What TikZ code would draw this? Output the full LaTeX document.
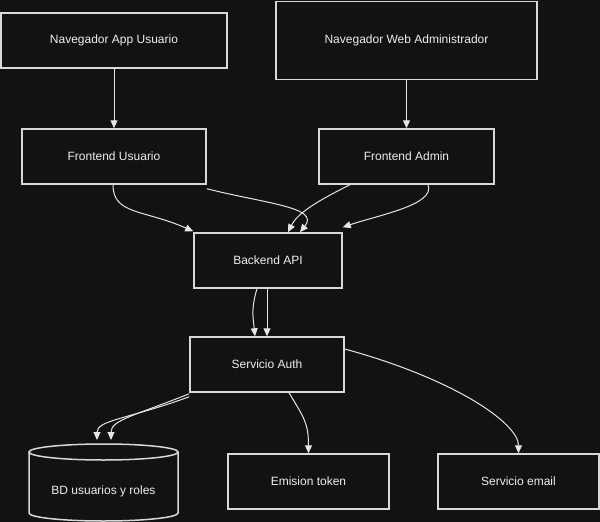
\documentclass[tikz,border=0pt]{standalone}
\usepackage{fontspec}
\setmainfont{Liberation Sans}
\usetikzlibrary{arrows.meta}
\definecolor{bgc}{HTML}{121212}
\definecolor{boxline}{HTML}{D8D8D8}
\definecolor{conn}{HTML}{E6E6E6}
\definecolor{txt}{HTML}{EEEEEE}
\begin{document}
\begin{tikzpicture}[x=1pt,y=-1pt,
  box/.style={draw=boxline, fill=bgc, line width=1.5pt, text=txt,
    font=\fontsize{12}{14}\selectfont, inner sep=0pt, anchor=center},
  arr/.style={draw=conn, line width=1pt, -{Triangle[length=8pt,width=7pt,fill=conn]}}]
\useasboundingbox (0,0) rectangle (600,522);
\fill[bgc] (0,0) rectangle (600,522);

\node[box, minimum width=226pt, minimum height=55pt] (navapp) at (114,40.5) {Navegador App Usuario};
\node[box, minimum width=261pt, minimum height=78pt] (navweb) at (406.5,40.5) {Navegador Web Administrador};
\node[box, minimum width=184pt, minimum height=55pt] (feu) at (114,156.5) {Frontend Usuario};
\node[box, minimum width=175pt, minimum height=55pt] (fea) at (406.5,156.5) {Frontend Admin};
\node[box, minimum width=148pt, minimum height=55pt] (back) at (268,260.5) {Backend API};
\node[box, minimum width=154pt, minimum height=55pt] (auth) at (267,364.5) {Servicio Auth};
\node[box, minimum width=161pt, minimum height=55pt] (tok) at (308.5,481.5) {Emision token};
\node[box, minimum width=161pt, minimum height=55pt] (email) at (518.5,481.5) {Servicio email};

% cylinder
\fill[bgc] (29,452) -- (29,513) arc[start angle=180,end angle=360,x radius=74.5pt,y radius=8pt] -- (178,452) -- cycle;
\draw[boxline, line width=1.5pt] (29,452) -- (29,513) arc[start angle=180,end angle=360,x radius=74.5pt,y radius=8pt] -- (178,452);
\draw[boxline, line width=1.5pt, fill=bgc] (103.5,452) ellipse [x radius=74.5pt, y radius=8pt];
\node[text=txt, font=\fontsize{12}{14}\selectfont, inner sep=0pt, minimum width=149pt, minimum height=77pt, text depth=0pt] (db) at (103.5,482.5) {};
\node[text=txt, font=\fontsize{12}{14}\selectfont, inner sep=0pt] (dbl) at (103.5,491) {BD usuarios y roles};
\coordinate (dbA) at (97,440);
\coordinate (dbB) at (111,440);

% connectors
\draw[arr] (navapp.south) -- (feu.north);
\draw[arr] (navweb.south) -- (fea.north);
\draw[arr] ([xshift=-1pt]feu.south) .. controls +(0,30) and +(-50,-22) .. ([xshift=0pt,yshift=1pt]back.north west);
\draw[arr] ([yshift=-4pt]feu.south east) .. controls +(60,15) and +(20,-25) .. ([xshift=32pt]back.north);
\draw[arr] ([xshift=-56.5pt]fea.south) .. controls +(-30,15) and +(10,-20) .. ([xshift=20pt]back.north);
\draw[arr] ([xshift=21.5pt]fea.south) .. controls +(8,20) and +(35,-12) .. ([yshift=5pt]back.north east);
\draw[arr] ([xshift=-1pt]back.south) -- ([xshift=-1pt]back.south |- auth.north);
\draw[arr] ([xshift=-11pt]back.south) .. controls +(-6,20) and +(-2,-20) .. ([xshift=-12pt]auth.north);
\draw[arr] ([yshift=-4pt]auth.south west) .. controls +(-60,22) and +(0,-20) .. (dbA);
\draw[arr] ([yshift=-1pt]auth.south west) .. controls +(-55,22) and +(0,-20) .. (dbB);
\draw[arr] ([xshift=22pt]auth.south) .. controls +(15,25) and +(0,-30) .. (tok.north);
\draw[arr] ([yshift=15.5pt]auth.east) .. controls +(110,30) and +(0,-30) .. (email.north);
\end{tikzpicture}
\end{document}
